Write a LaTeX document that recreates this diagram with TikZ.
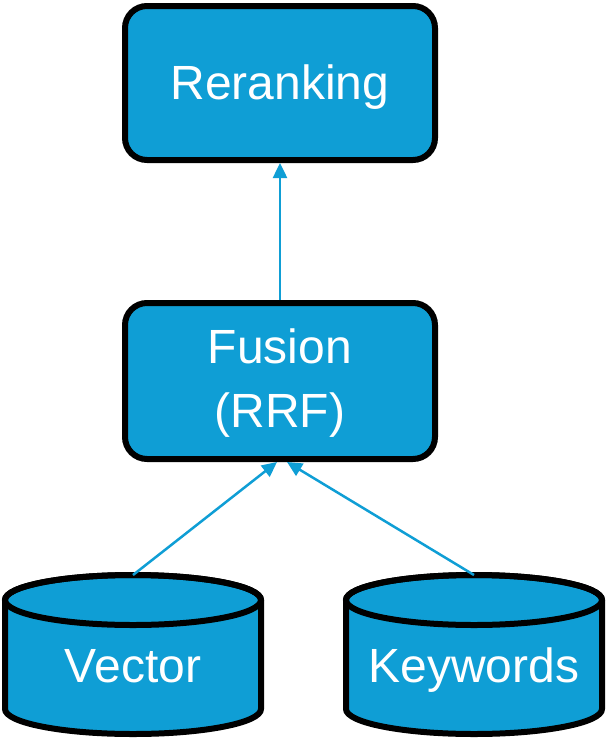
\documentclass[tikz,border=0pt]{standalone}
\usepackage{fontspec}
\setmainfont{Liberation Sans}
\usetikzlibrary{arrows.meta}
\definecolor{accent}{HTML}{0F9ED5}
\tikzset{
  box/.style={draw=black, line width=6pt, fill=accent, rounded corners=22pt,
    minimum width=310pt, text=white, font=\fontsize{48}{64}\selectfont,
    align=center, text depth=0pt, inner sep=0pt},
  cyl/.style={draw=black, line width=6pt, fill=accent, line join=round},
  lbl/.style={text=white, font=\fontsize{48}{64}\selectfont, anchor=base, inner sep=0pt},
  conn/.style={draw=accent, line width=2.5pt, -{Triangle[length=15pt,width=14pt]}}
}
\begin{document}
\begin{tikzpicture}[x=1pt,y=-1pt]
\useasboundingbox (0,0) rectangle (606,739);
\node[box, minimum height=154pt, text height=34.4pt, text depth=1pt] (rer) at (280,83) {Reranking};
\node[box, minimum height=156pt, text height=98.4pt, text depth=6pt] (fus) at (280,381) {Fusion\\(RRF)};
% Vector cylinder
\path[cyl] (5,600) -- (5,709) arc[start angle=180, end angle=0, x radius=128, y radius=25]
  -- (261,600) arc[start angle=0, end angle=-180, x radius=128, y radius=25] -- cycle;
\draw[line width=6pt] (133,600) ellipse[x radius=128, y radius=25];
\coordinate (vtop) at (133,575);
\node[lbl] (vec) at (133,682) {Vector};
% Keywords cylinder
\path[cyl] (346,600) -- (346,709) arc[start angle=180, end angle=0, x radius=128, y radius=25]
  -- (602,600) arc[start angle=0, end angle=-180, x radius=128, y radius=25] -- cycle;
\draw[line width=6pt] (474,600) ellipse[x radius=128, y radius=25];
\coordinate (ktop) at (474,575);
\node[lbl] (key) at (474,682) {Keywords};
% connectors
\draw[conn] (fus.north) -- (rer.south);
\draw[conn] (vtop) -- ([xshift=-3pt]fus.south);
\draw[conn] (ktop) -- ([xshift=7pt]fus.south);
\end{tikzpicture}
\end{document}
